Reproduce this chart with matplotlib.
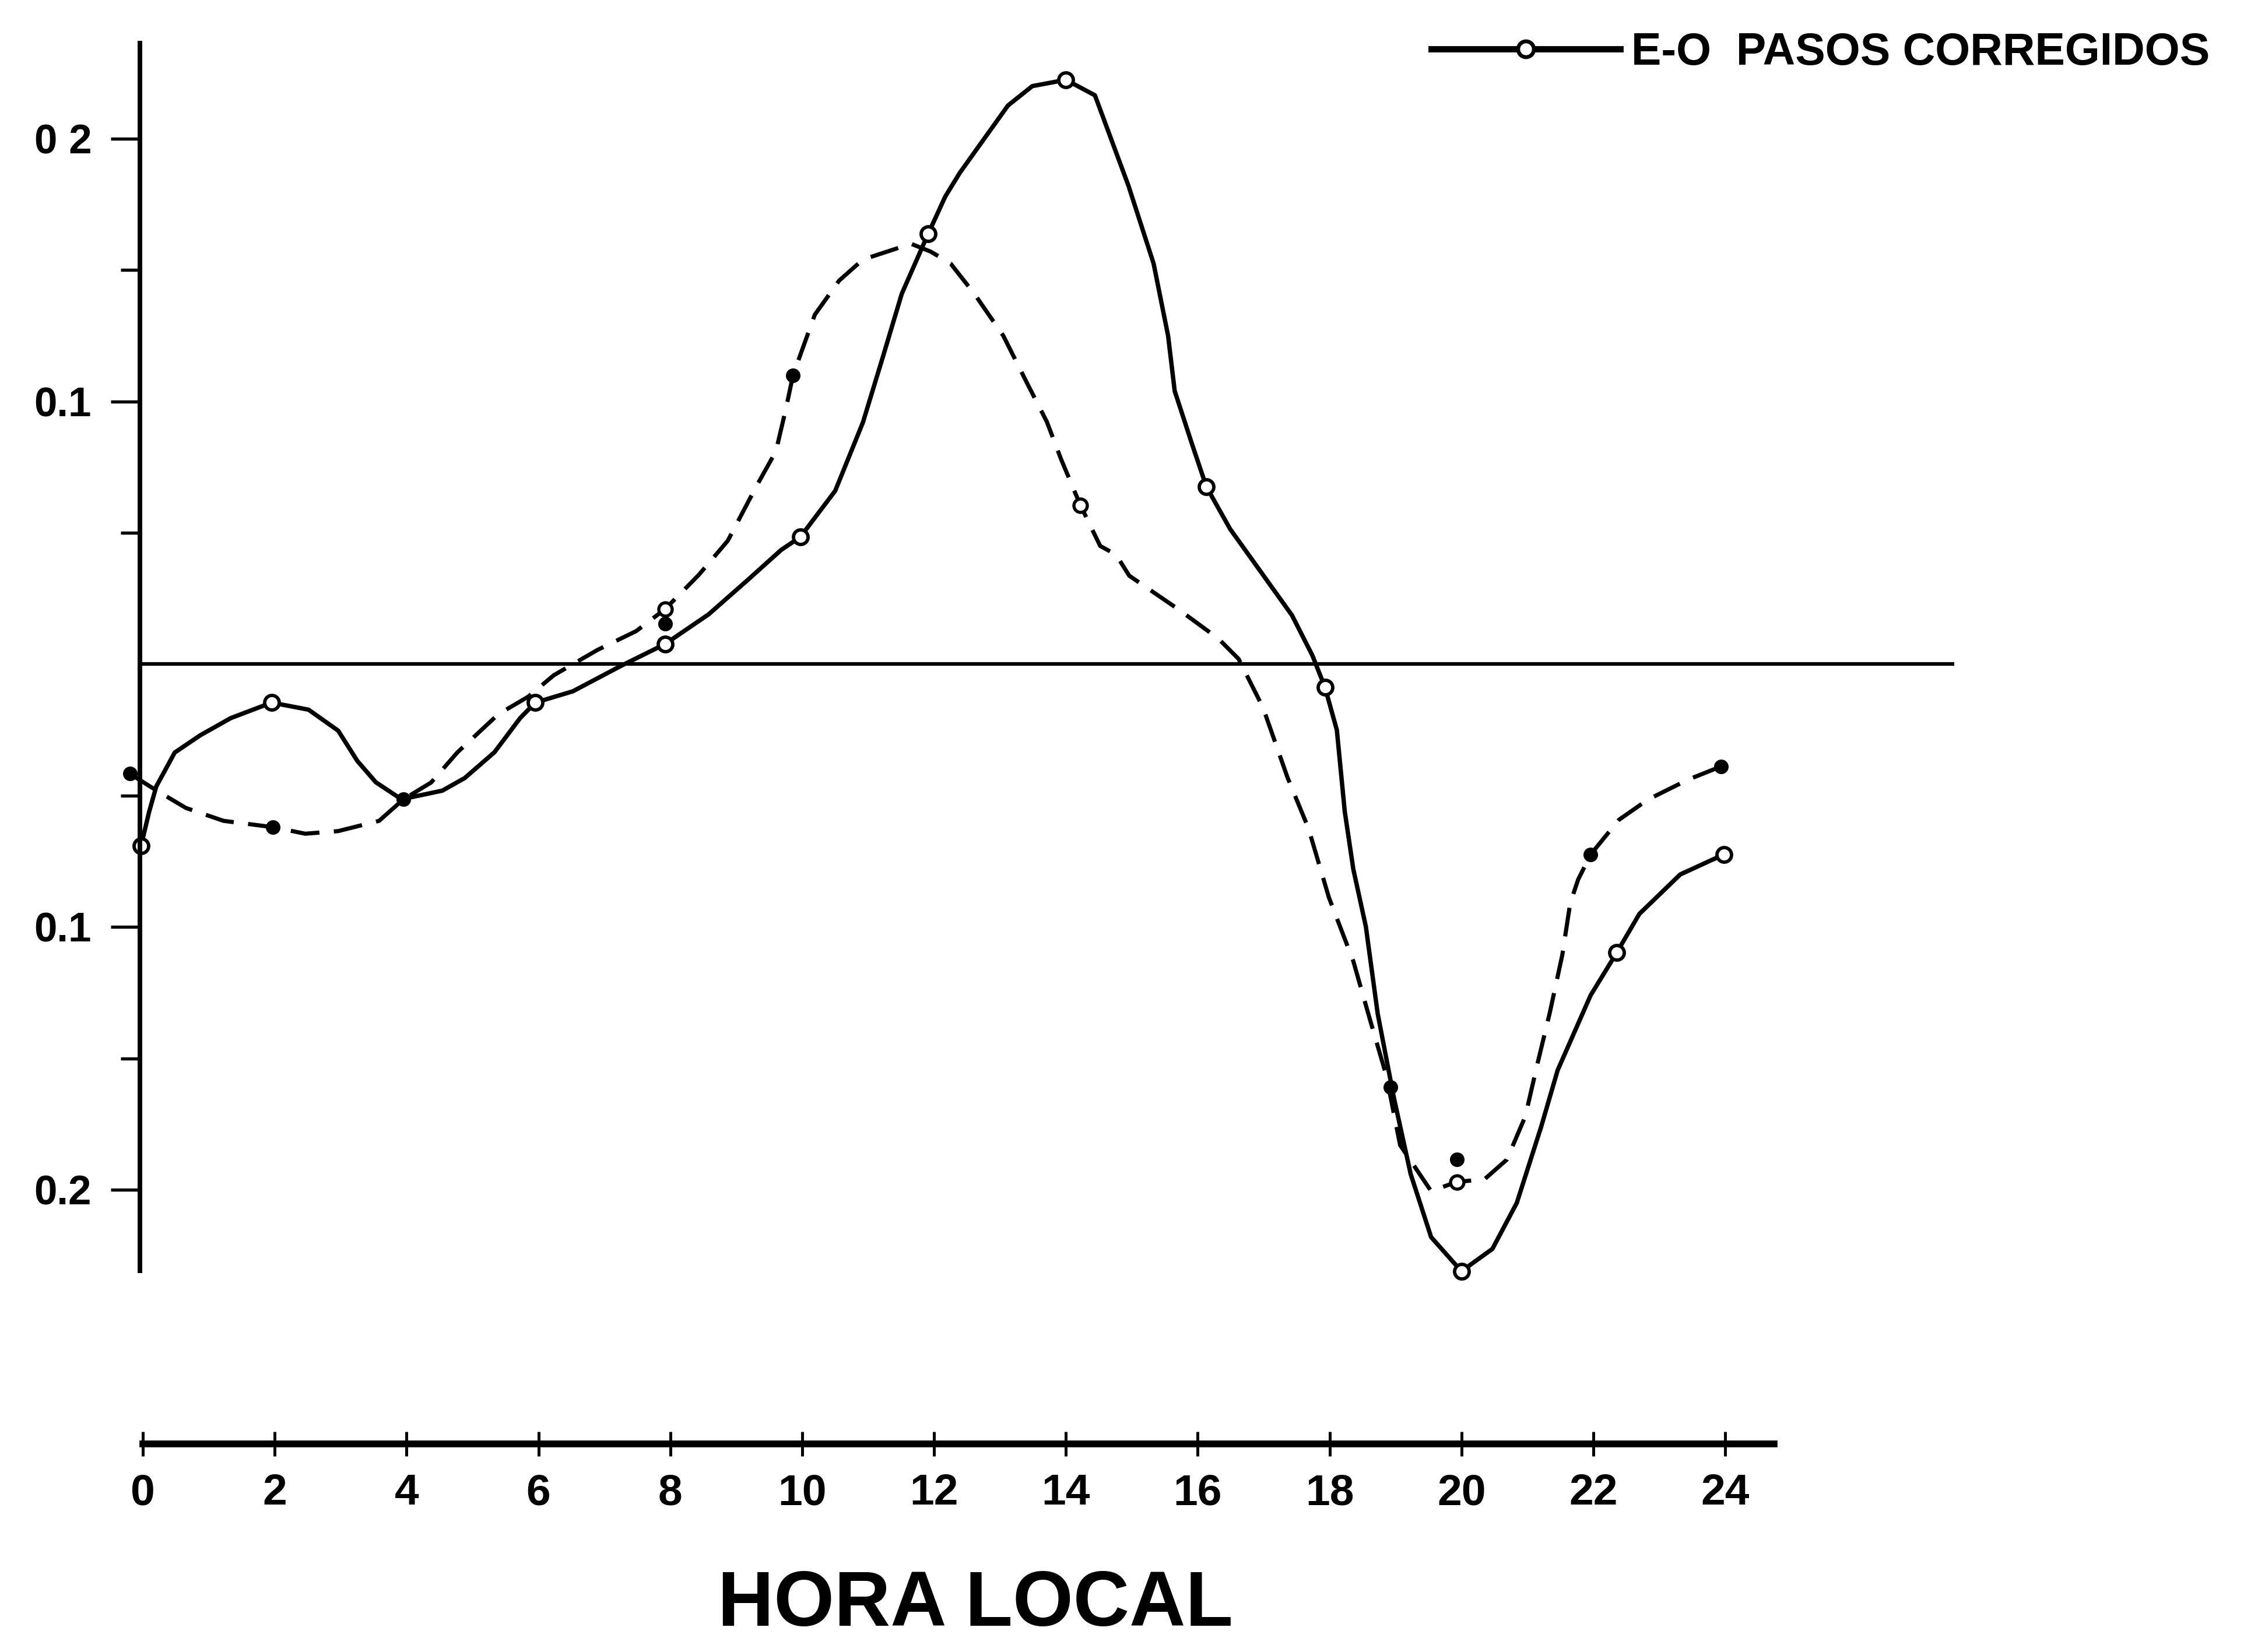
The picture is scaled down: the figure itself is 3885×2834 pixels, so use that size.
import numpy as np
import matplotlib.pyplot as plt

# E-O corrected passes (solid)
horas_c = [-0.03, 0.09, 0.2, 0.48, 0.87, 1.33, 1.95, 2.51, 2.96, 3.25, 3.53, 3.92, 4.54,
           4.88, 5.33, 5.72, 5.95, 6.52, 7.26, 7.92, 8.58, 9.17, 9.68, 9.97, 10.5, 10.92,
           11.22, 11.51, 11.91, 12.17, 12.39, 13.12, 13.49, 14.0, 14.44, 14.95, 15.33,
           15.55, 15.65, 15.91, 16.13, 16.49, 16.99, 17.43, 17.74, 17.93, 18.11, 18.23,
           18.36, 18.55, 18.73, 18.98, 19.23, 19.54, 20.0, 20.47, 20.84, 21.21, 21.46,
           21.96, 22.36, 22.7, 23.32, 23.98]
corregidos = [-0.069, -0.0563, -0.0465, -0.0336, -0.027, -0.0205, -0.0146, -0.0173,
              -0.0253, -0.0368, -0.0449, -0.0514, -0.0481, -0.0433, -0.0335, -0.0205,
              -0.0146, -0.0103, -0.0005, 0.0077, 0.019, 0.032, 0.0435, 0.0484, 0.066,
              0.092, 0.1167, 0.141, 0.1638, 0.178, 0.187, 0.2126, 0.22, 0.2224, 0.2165,
              0.182, 0.1525, 0.125, 0.104, 0.084, 0.0676, 0.0515, 0.034, 0.0186, 0.0033,
              -0.0088, -0.025, -0.056, -0.078, -0.0998, -0.133, -0.1655, -0.194, -0.218,
              -0.231, -0.2225, -0.205, -0.176, -0.1545, -0.126, -0.1096, -0.095, -0.080,
              -0.0724]

# dashed curve
horas_d = [-0.2, 0.2, 0.65, 1.22, 1.97, 2.46, 2.96, 3.58, 3.95, 4.37, 4.77, 5.39, 5.84,
           6.23, 6.89, 7.48, 7.92, 8.43, 8.87, 9.31, 9.6, 9.75, 9.86, 10.19, 10.56, 10.92,
           11.65, 11.95, 12.25, 12.61, 13.05, 13.41, 13.71, 13.93, 14.22, 14.52, 14.76,
           14.96, 15.7, 16.31, 16.62, 16.99, 17.36, 17.68, 17.99, 18.36, 18.61, 18.86,
           19.07, 19.54, 19.93, 20.35, 20.69, 20.97, 21.15, 21.34, 21.53, 21.65, 21.77,
           21.96, 22.39, 22.83, 23.44, 23.94]
sin_corregir = [-0.0417, -0.048, -0.0547, -0.0596, -0.062, -0.0645, -0.0635, -0.0596,
                -0.0514, -0.045, -0.0335, -0.019, -0.0124, -0.0042, 0.0054, 0.0126,
                0.021, 0.034, 0.047, 0.068, 0.081, 0.097, 0.110, 0.133, 0.146, 0.154,
                0.16, 0.157, 0.1525, 0.141, 0.125, 0.107, 0.0923, 0.0778, 0.0605, 0.045,
                0.0417, 0.0337, 0.021, 0.0098, 0.002, -0.0165, -0.043, -0.0625, -0.0888,
                -0.113, -0.135, -0.1565, -0.183, -0.2005, -0.197, -0.196, -0.1885, -0.172,
                -0.1524, -0.1327, -0.1107, -0.091, -0.082, -0.0724, -0.0592, -0.0515,
                -0.0439, -0.0389]

# plotted points
pts_c_x = [-0.03, 1.95, 5.95, 7.92, 9.97, 11.91, 14.0, 16.13, 17.93, 20.0, 22.36, 23.98]
pts_c_y = [-0.069, -0.0146, -0.0146, 0.0077, 0.0484, 0.1638, 0.2224, 0.0676, -0.0088,
           -0.231, -0.1096, -0.0724]
pts_d_open_x = [7.92, 14.22, 19.93]
pts_d_open_y = [0.021, 0.0605, -0.197]
pts_d_fill_x = [-0.2, 1.97, 3.95, 7.92, 9.86, 18.92, 19.93, 21.96, 23.94]
pts_d_fill_y = [-0.0417, -0.062, -0.0514, 0.0154, 0.110, -0.161, -0.1885, -0.0724, -0.0389]

ytick_vals = [0.2, 0.1, -0.1, -0.2]
ytick_text = ["0 2", "0.1", "0.1", "0.2"]
yminor_vals = [0.15, 0.05, -0.05, -0.15]
xtick_vals = list(range(0, 25, 2))

font = ['Liberation Sans', 'DejaVu Sans']

fig = plt.figure(figsize=(3885 / 300, 2834 / 300), dpi=300)

ax = fig.add_axes([0.0619, 0.2308, 0.8010, 0.7430])
ax.set_xlim(-0.044, 27.48)
ax.set_ylim(-0.2308, 0.2363)
for s in ['top', 'right', 'bottom']:
    ax.spines[s].set_visible(False)
ax.spines['left'].set_linewidth(1.9)
ax.axhline(0, color='black', linewidth=1.5)

ax.plot(horas_c, corregidos, '-', color='black', linewidth=1.8,
        solid_joinstyle='round', label='E-O  PASOS CORREGIDOS')
ax.plot(horas_d, sin_corregir, color='black', linewidth=1.7, linestyle=(0, (7, 3.5)),
        clip_on=False)
ax.plot(pts_c_x, pts_c_y, 'o', color='black', markerfacecolor='white',
        markeredgewidth=1.4, markersize=6, clip_on=False)
ax.plot(pts_d_fill_x, pts_d_fill_y, 'o', color='black', markersize=5, clip_on=False)
ax.plot(pts_d_open_x, pts_d_open_y, 'o', color='black', markerfacecolor='white',
        markeredgewidth=1.3, markersize=5.5, clip_on=False)

ax.set_xticks([])
ax.set_yticks(ytick_vals)
ax.set_yticklabels(ytick_text, family=font, fontweight='bold', fontsize=17)
ax.set_yticks(yminor_vals, minor=True)
ax.tick_params(axis='y', which='major', length=12, width=1.3, pad=8)
ax.tick_params(axis='y', which='minor', length=8, width=1.3)

# legend in the top right corner
leg = fig.legend(loc='upper left', bbox_to_anchor=(0.632, 0.981), frameon=False,
                 handlelength=4.2, handletextpad=0.25, borderpad=0, borderaxespad=0,
                 prop={'family': font, 'weight': 'bold', 'size': 18.5})
h = leg.legend_handles[0]
h.set_marker('o')
h.set_markerfacecolor('white')
h.set_markersize(6.5)
h.set_markeredgewidth(1.6)
h.set_linewidth(2.6)

# separate hour axis at the bottom
ax2 = fig.add_axes([0.0631, 0.1259, 0.7201, 0.0001])
ax2.set_xlim(0, 24.74)
for s in ['top', 'right', 'left']:
    ax2.spines[s].set_visible(False)
ax2.spines['bottom'].set_linewidth(2.8)
ax2.set_yticks([])
ax2.set_xticks(xtick_vals)
ax2.set_xticklabels([str(v) for v in xtick_vals], family=font, fontweight='bold', fontsize=18)
ax2.tick_params(axis='x', direction='inout', length=10, width=1.2, pad=7)

fig.text(0.4305, 0.028, 'HORA LOCAL', ha='center', va='center', family=font,
         fontweight='bold', fontsize=32)

plt.savefig('out.png', dpi=300)
